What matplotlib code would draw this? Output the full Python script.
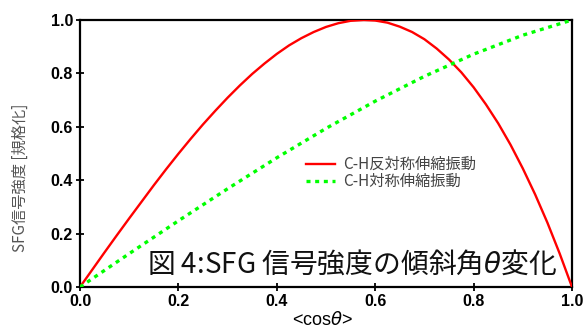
import matplotlib
matplotlib.use("Agg")
import matplotlib.pyplot as plt

# --- data ---
cos_red = [0.0, 0.025, 0.05, 0.075, 0.1, 0.125, 0.15, 0.175, 0.2, 0.225, 0.25, 0.275,
           0.3, 0.325, 0.35, 0.375, 0.4, 0.425, 0.45, 0.475, 0.5, 0.525, 0.55, 0.577,
           0.6, 0.625, 0.65, 0.675, 0.7, 0.725, 0.75, 0.775, 0.8, 0.825, 0.85, 0.875,
           0.9, 0.925, 0.95, 0.975, 1.0]
asym_stretch = [0.0, 0.065, 0.130, 0.194, 0.257, 0.319, 0.381, 0.441, 0.499, 0.555, 0.609,
                0.660, 0.709, 0.755, 0.798, 0.837, 0.873, 0.905, 0.932, 0.955, 0.974,
                0.988, 0.997, 1.0, 0.998, 0.990, 0.975, 0.955, 0.928, 0.893, 0.852,
                0.804, 0.748, 0.684, 0.613, 0.533, 0.444, 0.347, 0.241, 0.125, 0.0]

cos_green = [0.0, 0.1, 0.2, 0.3, 0.4, 0.5, 0.6, 0.7, 0.8, 0.9, 1.0]
sym_stretch = [0.0, 0.125, 0.248, 0.368, 0.484, 0.594, 0.696, 0.789, 0.872, 0.943, 1.0]

x_ticks = [0.0, 0.2, 0.4, 0.6, 0.8, 1.0]
y_ticks = [0.0, 0.2, 0.4, 0.6, 0.8, 1.0]

plt.rcParams['font.family'] = ['Noto Sans CJK JP', 'DejaVu Sans']

W, H = 588, 331
fig = plt.figure(figsize=(W / 100, H / 100), dpi=100)
ax = fig.add_axes([80 / W, 1 - 287 / H, 492 / W, 267 / H])

ax.plot(cos_red, asym_stretch, color='#ff0000', lw=1.7, label='C-H反対称伸縮振動', zorder=3)
ax.plot(cos_green, sym_stretch, color='#00ff00', lw=2.4, linestyle=(0, (1.2, 1.4)),
        label='C-H対称伸縮振動', zorder=3)

ax.set_xlim(0, 1)
ax.set_ylim(0, 1)
ax.set_xticks(x_ticks)
ax.set_yticks(y_ticks)
ax.set_xticklabels([f"{v:.1f}" for v in x_ticks], family='Liberation Sans',
                   fontsize=11.5, fontweight='bold')
ax.set_yticklabels([f"{v:.1f}" for v in y_ticks], family='Liberation Sans',
                   fontsize=11.5, fontweight='bold')
ax.tick_params(direction='inout', length=6, width=1.3, pad=2)
for s in ax.spines.values():
    s.set_linewidth(1.6)

# y label sits a bit below the axis centre in the original
fig.text(20 / W, 1 - 178 / H, 'SFG信号強度 [規格化]', rotation=90, ha='center', va='center',
         color='#555555', fontsize=11)
fig.text(323 / W, 1 - 320 / H, '<cos$\\it{θ}$>', ha='center', va='center', fontsize=13,
         family=['Liberation Sans', 'DejaVu Sans'])

leg = ax.legend(loc='upper left', bbox_to_anchor=(226 / 492, 1 - 136 / 267), frameon=False,
                fontsize=11, handlelength=1.9, handletextpad=0.5, labelspacing=0.0,
                borderpad=0.0, borderaxespad=0.0)
for t in leg.get_texts():
    t.set_color('#444444')

fig.text(147 / W, 1 - 265 / H, '図 4:SFG 信号強度の傾斜角$\\it{θ}$変化',
         ha='left', va='center', fontsize=20, color='#111111')

fig.savefig('out.png', dpi=100)
